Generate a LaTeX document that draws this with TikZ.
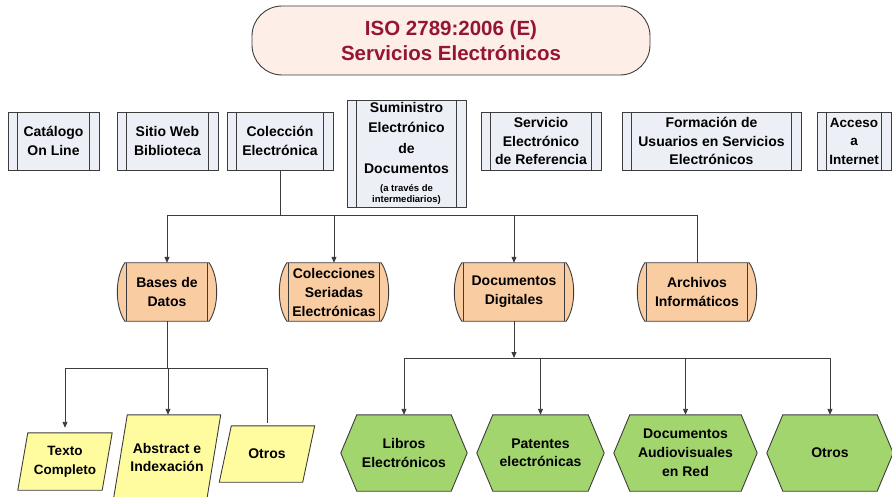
\documentclass[tikz,border=0pt]{standalone}
\usepackage{fontspec}
\setmainfont{Liberation Sans}
\usetikzlibrary{calc,backgrounds,arrows.meta}
\definecolor{ln}{RGB}{60,60,60}
\definecolor{titlefill}{RGB}{253,239,231}
\definecolor{titlered}{RGB}{150,20,55}
\definecolor{boxfill}{RGB}{236,239,246}
\definecolor{orangefill}{RGB}{250,204,162}
\definecolor{yellowfill}{RGB}{255,252,160}
\definecolor{greenfill}{RGB}{163,213,110}
\tikzset{
  txt/.style={inner sep=0pt, align=center, font=\bfseries\fontsize{14}{18.5}\selectfont},
  procbox/.style={txt, draw=ln, fill=boxfill, line width=0.9pt, minimum height=58},
  dispnode/.style={txt, minimum height=58, font=\bfseries\fontsize{14}{19}\selectfont},
  paranode/.style={txt, font=\bfseries\fontsize{14}{18.5}\selectfont},
  hexnode/.style={txt, minimum height=76, font=\bfseries\fontsize{14}{18.5}\selectfont},
  conn/.style={draw=ln, line width=0.9pt},
  arr/.style={-{Triangle[length=6pt,width=5pt]}},
  shapeline/.style={draw=ln, line width=0.9pt},
}
\newcommand\proclines[1]{%
  \draw[shapeline] ($(#1.north west)+(10,0)$) -- ($(#1.south west)+(10,0)$)
                   ($(#1.north east)+(-10,0)$) -- ($(#1.south east)+(-10,0)$);}
\newcommand\dispshape[1]{%
  \draw[shapeline, fill=orangefill] ($(#1.north west)+(8,0)$) -- ($(#1.north east)+(-8,0)$)
     .. controls ($(#1.north east)+(2,15)$) and ($(#1.south east)+(2,-15)$) .. ($(#1.south east)+(-8,0)$)
     -- ($(#1.south west)+(8,0)$)
     .. controls ($(#1.south west)+(-2,-15)$) and ($(#1.north west)+(-2,15)$) .. cycle;
  \draw[shapeline] ($(#1.north west)+(10,0)$) -- ($(#1.south west)+(10,0)$)
                   ($(#1.north east)+(-10,0)$) -- ($(#1.south east)+(-10,0)$);}
\newcommand\paral[2]{%
  \draw[shapeline, fill=yellowfill] ($(#1.north west)+(#2,0)$) -- ($(#1.north east)+(#2,0)$)
     -- ($(#1.south east)+(-#2,0)$) -- ($(#1.south west)+(-#2,0)$) -- cycle;}
\newcommand\hexshape[1]{%
  \draw[shapeline, fill=greenfill] (#1.west) -- ($(#1.north west)+(16,0)$) -- ($(#1.north east)+(-16,0)$)
     -- (#1.east) -- ($(#1.south east)+(-16,0)$) -- ($(#1.south west)+(16,0)$) -- cycle;}
\begin{document}
\begin{tikzpicture}[x=1pt,y=-1pt]
\useasboundingbox (0,0) rectangle (892,497);
% title
\node[draw=ln, line width=0.9pt, fill=titlefill, rounded corners=30pt, minimum width=398, minimum height=69,
      inner sep=0pt, align=center, text=titlered, font=\bfseries\fontsize{20.5}{25}\selectfont]
      (title) at (451,40.5) {ISO 2789:2006 (E)\\Servicios Electrónicos};
% top boxes
\node[procbox, minimum width=91] (cat) at (53.5,141) {Catálogo\\On Line};
\node[procbox, minimum width=101] (web) at (167.5,141) {Sitio Web\\Biblioteca};
\node[procbox, minimum width=106] (col) at (280,141) {Colección\\Electrónica};
\node[procbox, minimum width=119, minimum height=107, font=\bfseries\fontsize{14}{20.5}\selectfont] (sum) at (406.5,153.5)
  {Suministro\\Electrónico\\de\\Documentos\\[-3pt]{\fontsize{9.5}{10.5}\selectfont (a través de}\\[-9pt]{\fontsize{9.5}{10.5}\selectfont intermediarios)}};
\node[procbox, minimum width=120] (ref) at (541,141) {Servicio\\Electrónico\\de Referencia};
\node[procbox, minimum width=179] (form) at (711.5,141) {Formación de\\Usuarios en Servicios\\Electrónicos};
\node[procbox, minimum width=74, font=\bfseries\fontsize{13.5}{18.5}\selectfont] (acc) at (854,141) {Acceso\\a\\Internet};
\proclines{cat}\proclines{web}\proclines{col}\proclines{sum}\proclines{ref}\proclines{form}\proclines{acc}
% middle row
\node[dispnode, minimum width=100] (bases) at (167,292) {Bases de\\Datos};
\node[dispnode, minimum width=110] (colser) at (334,292) {Colecciones\\Seriadas\\Electrónicas};
\node[dispnode, minimum width=120] (docdig) at (514,292) {Documentos\\Digitales};
\node[dispnode, minimum width=120] (arch) at (697,292) {Archivos\\Informáticos};
% bottom left
\node[paranode, minimum width=84, minimum height=57, font=\bfseries\fontsize{13.5}{19}\selectfont] (texto) at (65,461.5) {Texto\\Completo};
\node[paranode, minimum width=93, minimum height=85] (abst) at (167,457.5) {Abstract e\\Indexación};
\node[paranode, minimum width=83, minimum height=56] (otros1) at (267,454) {Otros};
% bottom right
\node[hexnode, minimum width=126] (libros) at (404,453) {Libros\\Electrónicos};
\node[hexnode, minimum width=127] (pat) at (540.5,453) {Patentes\\electrónicas};
\node[hexnode, minimum width=143, font=\bfseries\fontsize{14}{19}\selectfont] (docav) at (685.5,453) {Documentos\\Audiovisuales\\en Red};
\node[hexnode, minimum width=126] (otros2) at (830,453) {Otros};
\begin{scope}[on background layer]
  \dispshape{bases}\dispshape{colser}\dispshape{docdig}\dispshape{arch}
  \paral{texto}{5}\paral{abst}{7}\paral{otros1}{6}
  \hexshape{libros}\hexshape{pat}\hexshape{docav}\hexshape{otros2}
\end{scope}
% connectors
\coordinate (j1) at (280,215);
\draw[conn] (col.south) -- (j1);
\draw[conn,arr] (j1) -| (bases.north);
\draw[conn,arr] (j1) -| (colser.north);
\draw[conn,arr] (j1) -| (docdig.north);
\draw[conn] (j1) -| (arch.north);
\coordinate (j3) at (167,368);
\draw[conn] (bases.south) -- (j3);
\draw[conn,arr,shorten >=5pt] (j3) -| (texto.north);
\draw[conn,arr] (j3) -| ($(abst.north)+(1,0)$);
\draw[conn] (j3) -| ($(otros1.north)+(0,-3)$);
\coordinate (j2) at (514,358);
\draw[conn,arr] (docdig.south) -- (j2);
\draw[conn,arr] (j2) -| (libros.north);
\draw[conn,arr] (j2) -| (pat.north);
\draw[conn,arr] (j2) -| (docav.north);
\draw[conn,arr] (j2) -| (otros2.north);
\end{tikzpicture}
\end{document}
